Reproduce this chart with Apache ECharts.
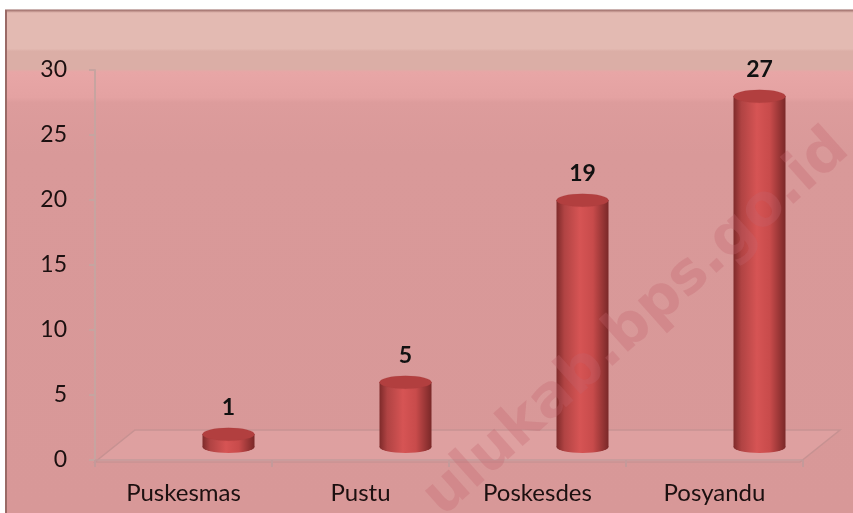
<!DOCTYPE html>
<html>
<head>
<meta charset="utf-8">
<script src="https://cdn.jsdelivr.net/npm/echarts@6/dist/echarts.min.js"></script>
<style>
  html, body { margin: 0; padding: 0; background: #fff; }
  #main { width: 853px; height: 513px; }
</style>
</head>
<body>
<div id="main"></div>
<script>
var categories = ["Puskesmas", "Pustu", "Poskesdes", "Posyandu"];
var values = [1, 5, 19, 27];
var yTicks = [0, 5, 10, 15, 20, 25, 30];

var chart = echarts.init(document.getElementById("main"));

var labelFont = "Lato, 'Open Sans', sans-serif";
var barW = 52;

// cylinder body colour, dark edges and light middle
var bodyColor = new echarts.graphic.LinearGradient(0, 0, 1, 0, [
  { offset: 0, color: "#7e2a2a" },
  { offset: 0.15, color: "#b04343" },
  { offset: 0.45, color: "#d65454" },
  { offset: 0.7, color: "#c84b4b" },
  { offset: 1, color: "#7a2828" }
]);

chart.setOption({
  animation: false,
  backgroundColor: new echarts.graphic.LinearGradient(0, 0, 0, 1, [
    { offset: 0, color: "#ffffff" },
    { offset: 0.018, color: "#ffffff" },
    { offset: 0.019, color: "#9a6a66" },
    { offset: 0.025, color: "#e3bab2" },
    { offset: 0.095, color: "#e3bab2" },
    { offset: 0.1, color: "#dbaea6" },
    { offset: 0.135, color: "#dbaea6" },
    { offset: 0.14, color: "#e8a6a6" },
    { offset: 0.19, color: "#e4a2a2" },
    { offset: 0.2, color: "#dd9c9c" },
    { offset: 0.3, color: "#d99999" },
    { offset: 1, color: "#d89898" }
  ]),
  graphic: [
    { type: "rect", shape: { x: 0, y: 0, width: 5, height: 513 }, style: { fill: "#ffffff" }, z: 0 },
    { type: "rect", shape: { x: 5, y: 10, width: 2, height: 503 }, style: { fill: "#9a6a66" }, z: 0 },
    // floor of the 3d plot
    {
      type: "polygon",
      shape: { points: [[95, 462], [800, 462], [840, 430], [135, 430]] },
      style: { fill: "rgba(235,175,175,0.35)", stroke: "#c79292", lineWidth: 1.5 },
      z: 0
    },
    {
      type: "text",
      x: 452, y: 528,
      rotation: 0.73,
      style: {
        text: "ulukab.bps.go.id",
        fill: "rgba(195,100,110,0.3)",
        font: "bold 58px 'DejaVu Sans', sans-serif",
        textAlign: "left",
        textVerticalAlign: "bottom"
      },
      z: 100
    }
  ],
  grid: [
    { left: 95, right: 50, top: 70, bottom: 53 },
    { left: 140, right: 5, top: 57, bottom: 66 }
  ],
  xAxis: [
    {
      gridIndex: 0,
      type: "category",
      data: categories,
      axisLine: { lineStyle: { color: "#c49a9a", width: 1.5 } },
      axisTick: { show: true, length: 7, lineStyle: { color: "#c49a9a", width: 2 } },
      axisLabel: { color: "#1c1010", fontSize: 24, fontFamily: labelFont, margin: 21 }
    },
    {
      gridIndex: 1,
      type: "category",
      data: categories,
      show: false
    }
  ],
  yAxis: [
    {
      gridIndex: 0,
      type: "value",
      min: 0,
      max: 30,
      interval: 5,
      axisLine: { show: true, lineStyle: { color: "#c7a4a0", width: 2 } },
      axisTick: { show: true, length: 6, lineStyle: { color: "#c7a4a0", width: 2 } },
      splitLine: { show: false },
      axisLabel: {
        color: "#1c1010", fontSize: 23, fontFamily: labelFont, margin: 28,
        formatter: function (v) { return yTicks.indexOf(v) >= 0 ? String(v) : ""; }
      }
    },
    {
      gridIndex: 1,
      type: "value",
      min: 0,
      max: 30,
      show: false
    }
  ],
  series: [
    {
      type: "bar",
      xAxisIndex: 1,
      yAxisIndex: 1,
      data: values,
      barWidth: barW,
      itemStyle: { color: bodyColor },
      z: 2
    },
    {
      // bottom ellipse
      type: "pictorialBar",
      xAxisIndex: 1,
      yAxisIndex: 1,
      data: values,
      symbol: "circle",
      symbolSize: [barW, 12],
      symbolPosition: "start",
      symbolOffset: [0, "50%"],
      itemStyle: { color: bodyColor },
      z: 1
    },
    {
      // top ellipse
      type: "pictorialBar",
      xAxisIndex: 1,
      yAxisIndex: 1,
      data: values,
      symbol: "circle",
      symbolSize: [barW, 13],
      symbolPosition: "end",
      symbolOffset: [0, "-50%"],
      itemStyle: { color: "#b23f3f", borderColor: "#8c3030", borderWidth: 1 },
      label: {
        show: true,
        position: "top",
        distance: 8,
        color: "#111",
        fontSize: 23,
        fontWeight: "bold",
        fontFamily: labelFont
      },
      z: 3
    }
  ]
});
</script>
</body>
</html>
